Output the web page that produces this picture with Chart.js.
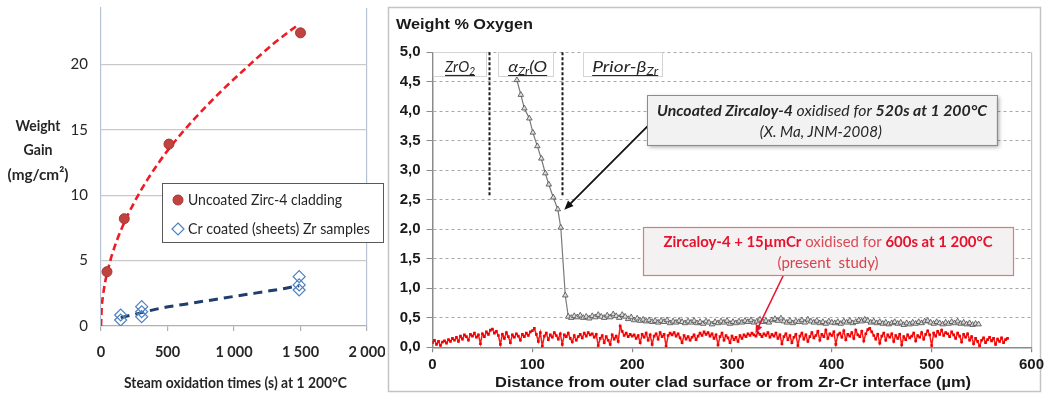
<!DOCTYPE html>
<html><head><meta charset="utf-8">
<script src="https://cdn.jsdelivr.net/npm/chart.js@4.4.1/dist/chart.umd.min.js"></script>
<style>
html,body{margin:0;padding:0;background:#fff;width:1045px;height:395px;overflow:hidden}
canvas{position:absolute;top:0}
#c1{left:0}
#c2{left:385px}
</style></head><body>
<canvas id="c1" width="385" height="395"></canvas>
<canvas id="c2" width="660" height="395"></canvas>
<script>
// ---------------- LEFT CHART DATA ----------------
const gainTimes = [45, 175, 511, 1500];
const gainUncoated = [4.15, 8.2, 13.9, 22.4];
const crTimes = [148, 148, 306, 306, 306, 1490, 1490, 1490];
const crGain = [0.46, 0.84, 0.71, 1.09, 1.48, 2.75, 3.14, 3.77];
const fitUncTimes = [0, 5, 15, 30, 50, 80, 120, 175, 250, 350, 500, 700, 900, 1100, 1300, 1480];
const fitUncGain = [0, 1.34, 2.3, 3.3, 4.2, 5.35, 6.55, 7.9, 9.45, 11.2, 13.4, 15.8, 17.9, 19.8, 21.6, 23.0];
const fitCrTimes = [148, 220, 306, 400, 494, 620, 745, 870, 994, 1120, 1246, 1370, 1490];
const fitCrGain = [0.64, 0.82, 1.02, 1.25, 1.45, 1.65, 1.85, 2.05, 2.25, 2.45, 2.65, 2.85, 3.08];
const leftXTickLabels = ['0', '500', '1 000', '1 500', '2 000'];
const leftYTickLabels = ['0', '5', '10', '15', '20'];
const leftLegend = ['Uncoated Zirc-4 cladding', 'Cr coated (sheets) Zr samples'];

// ---------------- RIGHT CHART DATA ----------------
const descDist = [84.5, 88.5, 92, 97, 100.5, 105, 109, 113, 116.5, 121, 125.5, 128.5, 133];
const descOxy = [4.53, 4.28, 4.05, 3.88, 3.64, 3.41, 3.20, 2.95, 2.76, 2.54, 2.34, 2.03, 0.88];
const flatStart = 136, flatStep = 3;
const flatOxy = [
 0.52,0.50,0.53,0.51,0.54,0.50,0.52,0.49,0.53,0.51,
 0.55,0.52,0.50,0.54,0.51,0.56,0.53,0.50,0.55,0.52,
 0.48,0.51,0.46,0.49,0.45,0.47,0.44,0.46,0.43,0.45,
 0.42,0.45,0.43,0.46,0.41,0.44,0.42,0.45,0.43,0.41,
 0.44,0.42,0.45,0.41,0.43,0.40,0.44,0.42,0.39,0.43,
 0.41,0.44,0.42,0.45,0.40,0.43,0.41,0.44,0.42,0.45,
 0.43,0.46,0.42,0.44,0.47,0.43,0.45,0.42,0.46,0.48,
 0.45,0.49,0.44,0.42,0.45,0.41,0.44,0.43,0.46,0.42,
 0.47,0.44,0.42,0.45,0.41,0.43,0.40,0.44,0.42,0.41,
 0.43,0.40,0.44,0.42,0.45,0.41,0.43,0.46,0.44,0.47,
 0.45,0.42,0.44,0.41,0.43,0.40,0.42,0.39,0.41,0.43,
 0.40,0.42,0.38,0.41,0.39,0.42,0.40,0.43,0.41,0.44,
 0.45,0.42,0.40,0.43,0.41,0.39,0.42,0.40,0.43,0.41,
 0.44,0.40,0.42,0.39,0.41,0.38,0.40,0.39];
const crStart = 0, crStep = 2;
const crOxy = [
 0.08,0.12,0.05,0.10,0.03,0.09,0.11,0.07,0.13,0.10,
 0.15,0.12,0.17,0.10,0.19,0.14,0.21,0.18,0.12,0.22,
 0.19,0.24,0.17,0.21,0.06,0.23,0.18,0.26,0.22,0.29,
 0.31,0.24,0.27,0.20,0.05,0.22,0.15,0.25,0.18,0.08,
 0.21,0.17,0.23,0.19,0.12,0.22,0.18,0.24,0.20,0.26,
 0.28,0.32,0.22,0.10,0.25,0.02,0.19,0.24,0.13,0.21,
 0.17,0.25,0.20,0.14,0.23,0.05,0.21,0.18,0.24,0.15,
 0.09,0.20,0.12,0.18,0.22,0.16,0.24,0.19,0.25,0.21,
 0.23,0.17,0.22,0.03,0.15,0.20,0.08,0.18,0.12,0.05,
 0.21,0.14,0.19,0.10,0.36,0.27,0.20,0.24,0.18,0.22,
 0.19,0.21,0.15,0.20,0.08,0.22,0.17,0.24,0.12,0.21,
 0.05,0.19,0.23,0.14,0.25,0.18,0.22,0.02,0.20,0.24,
 0.21,0.25,0.19,0.23,0.16,0.08,0.20,0.14,0.18,0.12,
 0.17,0.21,0.13,0.19,0.24,0.20,0.26,0.22,0.25,0.19,
 0.23,0.15,0.21,0.04,0.18,0.24,0.12,0.20,0.16,0.08,
 0.19,0.13,0.17,0.10,0.20,0.15,0.21,0.18,0.23,0.20,
 0.24,0.21,0.19,0.25,0.22,0.18,0.23,0.20,0.25,0.17,
 0.22,0.19,0.24,0.15,0.21,0.06,0.18,0.23,0.13,0.20,
 0.08,0.17,0.22,0.03,0.19,0.24,0.14,0.21,0.10,0.18,
 0.25,0.16,0.20,0.27,0.12,0.22,0.18,0.29,0.15,0.23,
 0.20,0.26,0.05,0.21,0.24,0.17,0.28,0.13,0.22,0.19,
 0.25,0.15,0.29,0.21,0.18,0.27,0.11,0.23,0.30,0.32,
 0.26,0.20,0.14,0.22,0.07,0.19,0.24,0.12,0.21,0.17,
 0.23,0.10,0.20,0.15,0.22,0.04,0.18,0.13,0.21,0.16,
 0.19,0.24,0.11,0.20,0.17,0.25,0.14,0.22,0.28,0.21,
 0.03,0.24,0.19,0.27,0.22,0.29,0.20,0.25,0.23,0.18,
 0.26,0.21,0.15,0.24,0.19,0.09,0.22,0.17,0.23,0.12,
 0.18,0.06,0.15,0.10,0.02,0.12,0.16,0.08,0.13,0.17,
 0.11,0.15,0.05,0.14,0.10,0.16,0.08,0.13,0.15];
const rightXTickLabels = ['0', '100', '200', '300', '400', '500', '600'];
const rightYTickLabels = ['0,0','0,5','1,0','1,5','2,0','2,5','3,0','3,5','4,0','4,5','5,0'];

// ---------------- helpers ----------------
function rich(ctx, segs, x, y, targetW, align) {
  let total = 0;
  for (const s of segs) { ctx.font = s.f; s.w = ctx.measureText(s.t).width; total += s.w; }
  const k = targetW ? targetW / total : 1;
  const w = total * k;
  let x0 = align === 'left' ? x : (align === 'right' ? x - w : x - w / 2);
  ctx.save();
  ctx.translate(x0, y);
  ctx.scale(k, 1);
  ctx.textAlign = 'left';
  let cx = 0;
  for (const s of segs) {
    ctx.font = s.f;
    if (s.c) ctx.fillStyle = s.c;
    ctx.fillText(s.t, cx, s.dy || 0);
    cx += s.w;
  }
  ctx.restore();
  return [x0, x0 + w];
}
function arrow(ctx, x1, y1, x2, y2, color, lw, head) {
  const a = Math.atan2(y2 - y1, x2 - x1);
  ctx.save();
  ctx.strokeStyle = color; ctx.fillStyle = color; ctx.lineWidth = lw;
  ctx.beginPath(); ctx.moveTo(x1, y1);
  ctx.lineTo(x2 - Math.cos(a) * head * 0.8, y2 - Math.sin(a) * head * 0.8); ctx.stroke();
  ctx.beginPath();
  ctx.moveTo(x2, y2);
  ctx.lineTo(x2 - head * Math.cos(a - 0.4), y2 - head * Math.sin(a - 0.4));
  ctx.lineTo(x2 - head * Math.cos(a + 0.4), y2 - head * Math.sin(a + 0.4));
  ctx.closePath(); ctx.fill();
  ctx.restore();
}
const zip = (xs, ys) => xs.map((x, i) => ({x, y: ys[i]}));
const noPadY = s => { s.paddingTop = 0; s.paddingBottom = 0; };
const noPadX = s => { s.paddingLeft = 0; s.paddingRight = 0; };

// ---------------- LEFT CHART ----------------
const leftDeco = {
  id: 'leftDeco',
  afterDraw(chart) {
    const ctx = chart.ctx;
    ctx.save();
    ctx.textBaseline = 'middle';
    ctx.fillStyle = '#262626';
    rich(ctx, [{t: 'Weight', f: 'bold 16px Lato'}], 38, 126, 45);
    rich(ctx, [{t: 'Gain', f: 'bold 16px Lato'}], 38, 150, 29);
    rich(ctx, [{t: '(mg/cm²)', f: 'bold 16px Lato'}], 38, 175, 61);
    rich(ctx, [{t: 'Steam oxidation times (s) at 1 200°C', f: 'bold 16px Lato'}], 235.5, 383, 223);
    // legend box
    ctx.fillStyle = '#fff';
    ctx.fillRect(162, 183, 221, 60);
    ctx.strokeStyle = '#595959'; ctx.lineWidth = 1;
    ctx.strokeRect(162.5, 183.5, 221, 59);
    ctx.fillStyle = '#c0433f'; ctx.strokeStyle = '#a83532';
    ctx.beginPath(); ctx.arc(178, 200, 5, 0, Math.PI * 2); ctx.fill(); ctx.stroke();
    ctx.strokeStyle = '#4f81bd'; ctx.lineWidth = 1.2;
    ctx.beginPath(); ctx.moveTo(178, 223); ctx.lineTo(184, 229); ctx.lineTo(178, 235); ctx.lineTo(172, 229); ctx.closePath(); ctx.stroke();
    ctx.fillStyle = '#262626';
    rich(ctx, [{t: leftLegend[0], f: '16px Lato'}], 188, 200, 154, 'left');
    rich(ctx, [{t: leftLegend[1], f: '16px Lato'}], 188, 229, 182, 'left');
    ctx.restore();
  }
};

new Chart(document.getElementById('c1'), {
  type: 'scatter',
  data: {
    datasets: [
      {data: zip(gainTimes, gainUncoated), pointRadius: 5, pointBackgroundColor: '#c0433f', pointBorderColor: '#a83532', pointBorderWidth: 1, showLine: false},
      {data: zip(crTimes, crGain), pointStyle: 'rectRot', pointRadius: 6, pointBackgroundColor: 'rgba(255,255,255,0)', pointBorderColor: '#4f81bd', pointBorderWidth: 1.2, showLine: false},
      {data: zip(fitUncTimes, fitUncGain), showLine: true, pointRadius: 0, borderColor: '#ee1c25', borderWidth: 2.6, borderDash: [7, 4], tension: 0.4, cubicInterpolationMode: 'monotone'},
      {data: zip(fitCrTimes, fitCrGain), showLine: true, pointRadius: 0, borderColor: '#1f3d6e', borderWidth: 3, borderDash: [9, 6], tension: 0.4, cubicInterpolationMode: 'monotone'}
    ]
  },
  options: {
    responsive: false, animation: false, events: [],
    layout: {padding: {left: 0, right: 18, top: 8, bottom: 0}},
    plugins: {legend: {display: false}, tooltip: {enabled: false}},
    scales: {
      x: {
        type: 'linear', min: 0, max: 2000,
        afterFit: s => { s.height = 69; noPadX(s); },
        ticks: {stepSize: 500, padding: 13, color: '#262626', font: {family: 'Lato', size: 14.5, weight: 'bold'},
          callback: v => leftXTickLabels[Math.round(v / 500)]},
        grid: {color: c => c.tick && c.tick.value === 2000 ? '#b7c3d3' : 'rgba(0,0,0,0)', tickColor: '#b0b0b0', tickLength: 5, lineWidth: 1.2},
        border: {color: '#b0b0b0', width: 1.2}
      },
      y: {
        min: 0, max: 24.3,
        afterFit: s => { s.width = 101; noPadY(s); },
        ticks: {stepSize: 5, includeBounds: false, padding: 13, color: '#262626', font: {family: 'Lato', size: 15},
          callback: v => leftYTickLabels[Math.round(v / 5)]},
        grid: {color: c => c.tick && c.tick.value === 0 ? 'rgba(0,0,0,0)' : '#c9c9c9', drawTicks: false, lineWidth: 1.2},
        border: {color: '#b7c3d3', width: 1.2}
      }
    }
  },
  plugins: [leftDeco]
});

// ---------------- RIGHT CHART ----------------
const rightDeco = {
  id: 'rightDeco',
  beforeDraw(chart) {
    const ctx = chart.ctx;
    ctx.save();
    ctx.fillStyle = '#fff'; ctx.fillRect(0, 0, chart.width, chart.height);
    ctx.strokeStyle = '#c4c4c4'; ctx.lineWidth = 1.5;
    ctx.strokeRect(3.5, 7.5, 652, 384);
    ctx.restore();
  },
  afterDraw(chart) {
    const ctx = chart.ctx;
    const X = v => chart.scales.x.getPixelForValue(v);
    const Y = v => chart.scales.y.getPixelForValue(v);
    ctx.save();
    ctx.textBaseline = 'middle';
    ctx.fillStyle = '#1a1a1a';
    rich(ctx, [{t: 'Weight % Oxygen', f: 'bold 15px "Liberation Sans"'}], 11, 25, 137, 'left');
    rich(ctx, [{t: 'Distance from outer clad surface or from Zr-Cr interface (µm)', f: 'bold 15.5px "Liberation Sans"'}], 348, 383, 476);

    // phase separation dashed lines
    ctx.strokeStyle = '#1a1a1a'; ctx.lineWidth = 2; ctx.setLineDash([3, 2]);
    for (const d of [56.5, 129.5]) {
      ctx.beginPath(); ctx.moveTo(Math.round(X(d)) + 0.5, Y(5)); ctx.lineTo(Math.round(X(d)) + 0.5, Y(2.55)); ctx.stroke();
    }
    ctx.setLineDash([]);

    // phase label boxes
    const boxes = [
      {x0: 0.5, x1: 54, cx: 27.6, w: 30, segs: [{t: 'ZrO', f: 'italic 16px Lato'}, {t: '2', f: 'italic 11px Lato', dy: 3}]},
      {x0: 65.7, x1: 121, cx: 95.3, w: 39, segs: [{t: 'α', f: 'italic 16px Lato'}, {t: 'Zr', f: 'italic 11px Lato', dy: 3}, {t: '(O', f: 'italic 16px Lato'}]},
      {x0: 151, x1: 230, cx: 193, w: 66, segs: [{t: 'Prior-β', f: 'italic 16px Lato'}, {t: 'Zr', f: 'italic 11px Lato', dy: 3}]}
    ];
    for (const b of boxes) {
      const px0 = X(b.x0), px1 = X(b.x1), py0 = Y(5), py1 = Y(4.6);
      ctx.fillStyle = '#fff'; ctx.fillRect(px0, py0, px1 - px0, py1 - py0);
      ctx.strokeStyle = '#d4d4d4'; ctx.lineWidth = 1;
      ctx.strokeRect(Math.round(px0) + 0.5, Math.round(py0) + 0.5, Math.round(px1 - px0), Math.round(py1 - py0));
      ctx.fillStyle = '#262626'; ctx.textBaseline = 'alphabetic';
      const by = Y(4.666);
      const [a, e] = rich(ctx, b.segs, X(b.cx), by, b.w);
      ctx.strokeStyle = '#262626'; ctx.lineWidth = 1.2;
      ctx.beginPath(); ctx.moveTo(a, by + 3.5); ctx.lineTo(e, by + 3.5); ctx.stroke();
    }
    ctx.textBaseline = 'middle';

    // gray annotation
    arrow(ctx, X(215.5), Y(3.75), X(132), Y(2.33), '#111', 1.8, 10);
    {
      const x0 = X(215.1), x1 = X(565.2), y0 = Y(4.276), y1 = Y(3.43);
      ctx.save();
      ctx.shadowColor = 'rgba(0,0,0,0.35)'; ctx.shadowBlur = 4; ctx.shadowOffsetX = 2; ctx.shadowOffsetY = 2;
      ctx.fillStyle = '#f2f2f2'; ctx.fillRect(x0, y0, x1 - x0, y1 - y0);
      ctx.restore();
      ctx.strokeStyle = '#8c8c8c'; ctx.lineWidth = 1;
      ctx.strokeRect(Math.round(x0) + 0.5, Math.round(y0) + 0.5, Math.round(x1 - x0), Math.round(y1 - y0));
      ctx.fillStyle = '#262626';
      rich(ctx, [
        {t: 'Uncoated Zircaloy-4', f: 'italic bold 15px Lato'},
        {t: ' oxidised for ', f: 'italic 15px Lato'},
        {t: '520s at 1 200°C', f: 'italic bold 15px Lato'}
      ], X(390.2), Y(4.005), 330);
      rich(ctx, [{t: '(X. Ma, JNM-2008)', f: 'italic 15px Lato'}], X(389), Y(3.654), 122);
    }

    // red annotation
    arrow(ctx, X(351.6), Y(1.225), X(323.5), Y(0.24), '#e8102a', 1.5, 9);
    {
      const x0 = X(211.1), x1 = X(581.3), y0 = Y(2.04), y1 = Y(1.225);
      ctx.fillStyle = '#f3f1f1'; ctx.fillRect(x0, y0, x1 - x0, y1 - y0);
      ctx.strokeStyle = '#e07878'; ctx.lineWidth = 1.2;
      ctx.strokeRect(Math.round(x0) + 0.5, Math.round(y0) + 0.5, Math.round(x1 - x0), Math.round(y1 - y0));
      rich(ctx, [
        {t: 'Zircaloy-4 + 15µmCr', f: 'bold 15px Lato', c: '#e8112d'},
        {t: ' oxidised for ', f: '15px Lato', c: '#db4b57'},
        {t: '600s at 1 200°C', f: 'bold 15px Lato', c: '#e8112d'}
      ], X(396.2), Y(1.78), 329);
      rich(ctx, [{t: '(present  study)', f: '15px Lato', c: '#d9434e'}], X(396.2), Y(1.424), 101);
    }
    ctx.restore();
  }
};

new Chart(document.getElementById('c2'), {
  type: 'scatter',
  data: {
    datasets: [
      {data: zip(crOxy.map((v, i) => crStart + i * crStep), crOxy), showLine: true, borderColor: '#ff1a1a', borderWidth: 1.5,
        pointStyle: 'rect', pointRadius: 1.9, pointBackgroundColor: '#f00000', pointBorderColor: '#f00000', pointBorderWidth: 0},
      {data: zip(descDist.concat(flatOxy.map((v, i) => flatStart + i * flatStep)), descOxy.concat(flatOxy)), showLine: true,
        borderColor: '#7a7a7a', borderWidth: 1.2, pointStyle: 'triangle', pointRadius: 3.2,
        pointBackgroundColor: '#dcdcdc', pointBorderColor: '#4a4a4a', pointBorderWidth: 0.8}
    ]
  },
  options: {
    responsive: false, animation: false, events: [],
    layout: {padding: {left: 0, right: 13.5, top: 52.3, bottom: 0}},
    plugins: {legend: {display: false}, tooltip: {enabled: false}},
    scales: {
      x: {
        type: 'linear', min: 0, max: 600,
        afterFit: s => { s.height = 47.7; noPadX(s); },
        ticks: {stepSize: 100, padding: 4, color: '#1a1a1a', font: {family: 'Liberation Sans', size: 15, weight: 'bold'},
          callback: v => rightXTickLabels[Math.round(v / 100)]},
        grid: {color: c => c.tick && c.tick.value === 600 ? '#c4c4c4' : 'rgba(0,0,0,0)', tickColor: '#8a8a8a', tickLength: 5, lineWidth: 1.2},
        border: {color: '#8a8a8a', width: 1.5}
      },
      y: {
        min: 0, max: 5,
        afterFit: s => { s.width = 47.5; noPadY(s); },
        ticks: {stepSize: 0.5, padding: 6, color: '#1a1a1a', font: {family: 'Liberation Sans', size: 15, weight: 'bold'},
          callback: v => rightYTickLabels[Math.round(v / 0.5)]},
        grid: {color: c => c.tick && c.tick.value === 0 ? 'rgba(0,0,0,0)' : '#a8a8a8', tickColor: '#8a8a8a', tickLength: 6, lineWidth: 1},
        border: {color: '#8a8a8a', width: 1.5, dash: [3, 3]}
      }
    }
  },
  plugins: [rightDeco]
});
</script>
</body></html>
